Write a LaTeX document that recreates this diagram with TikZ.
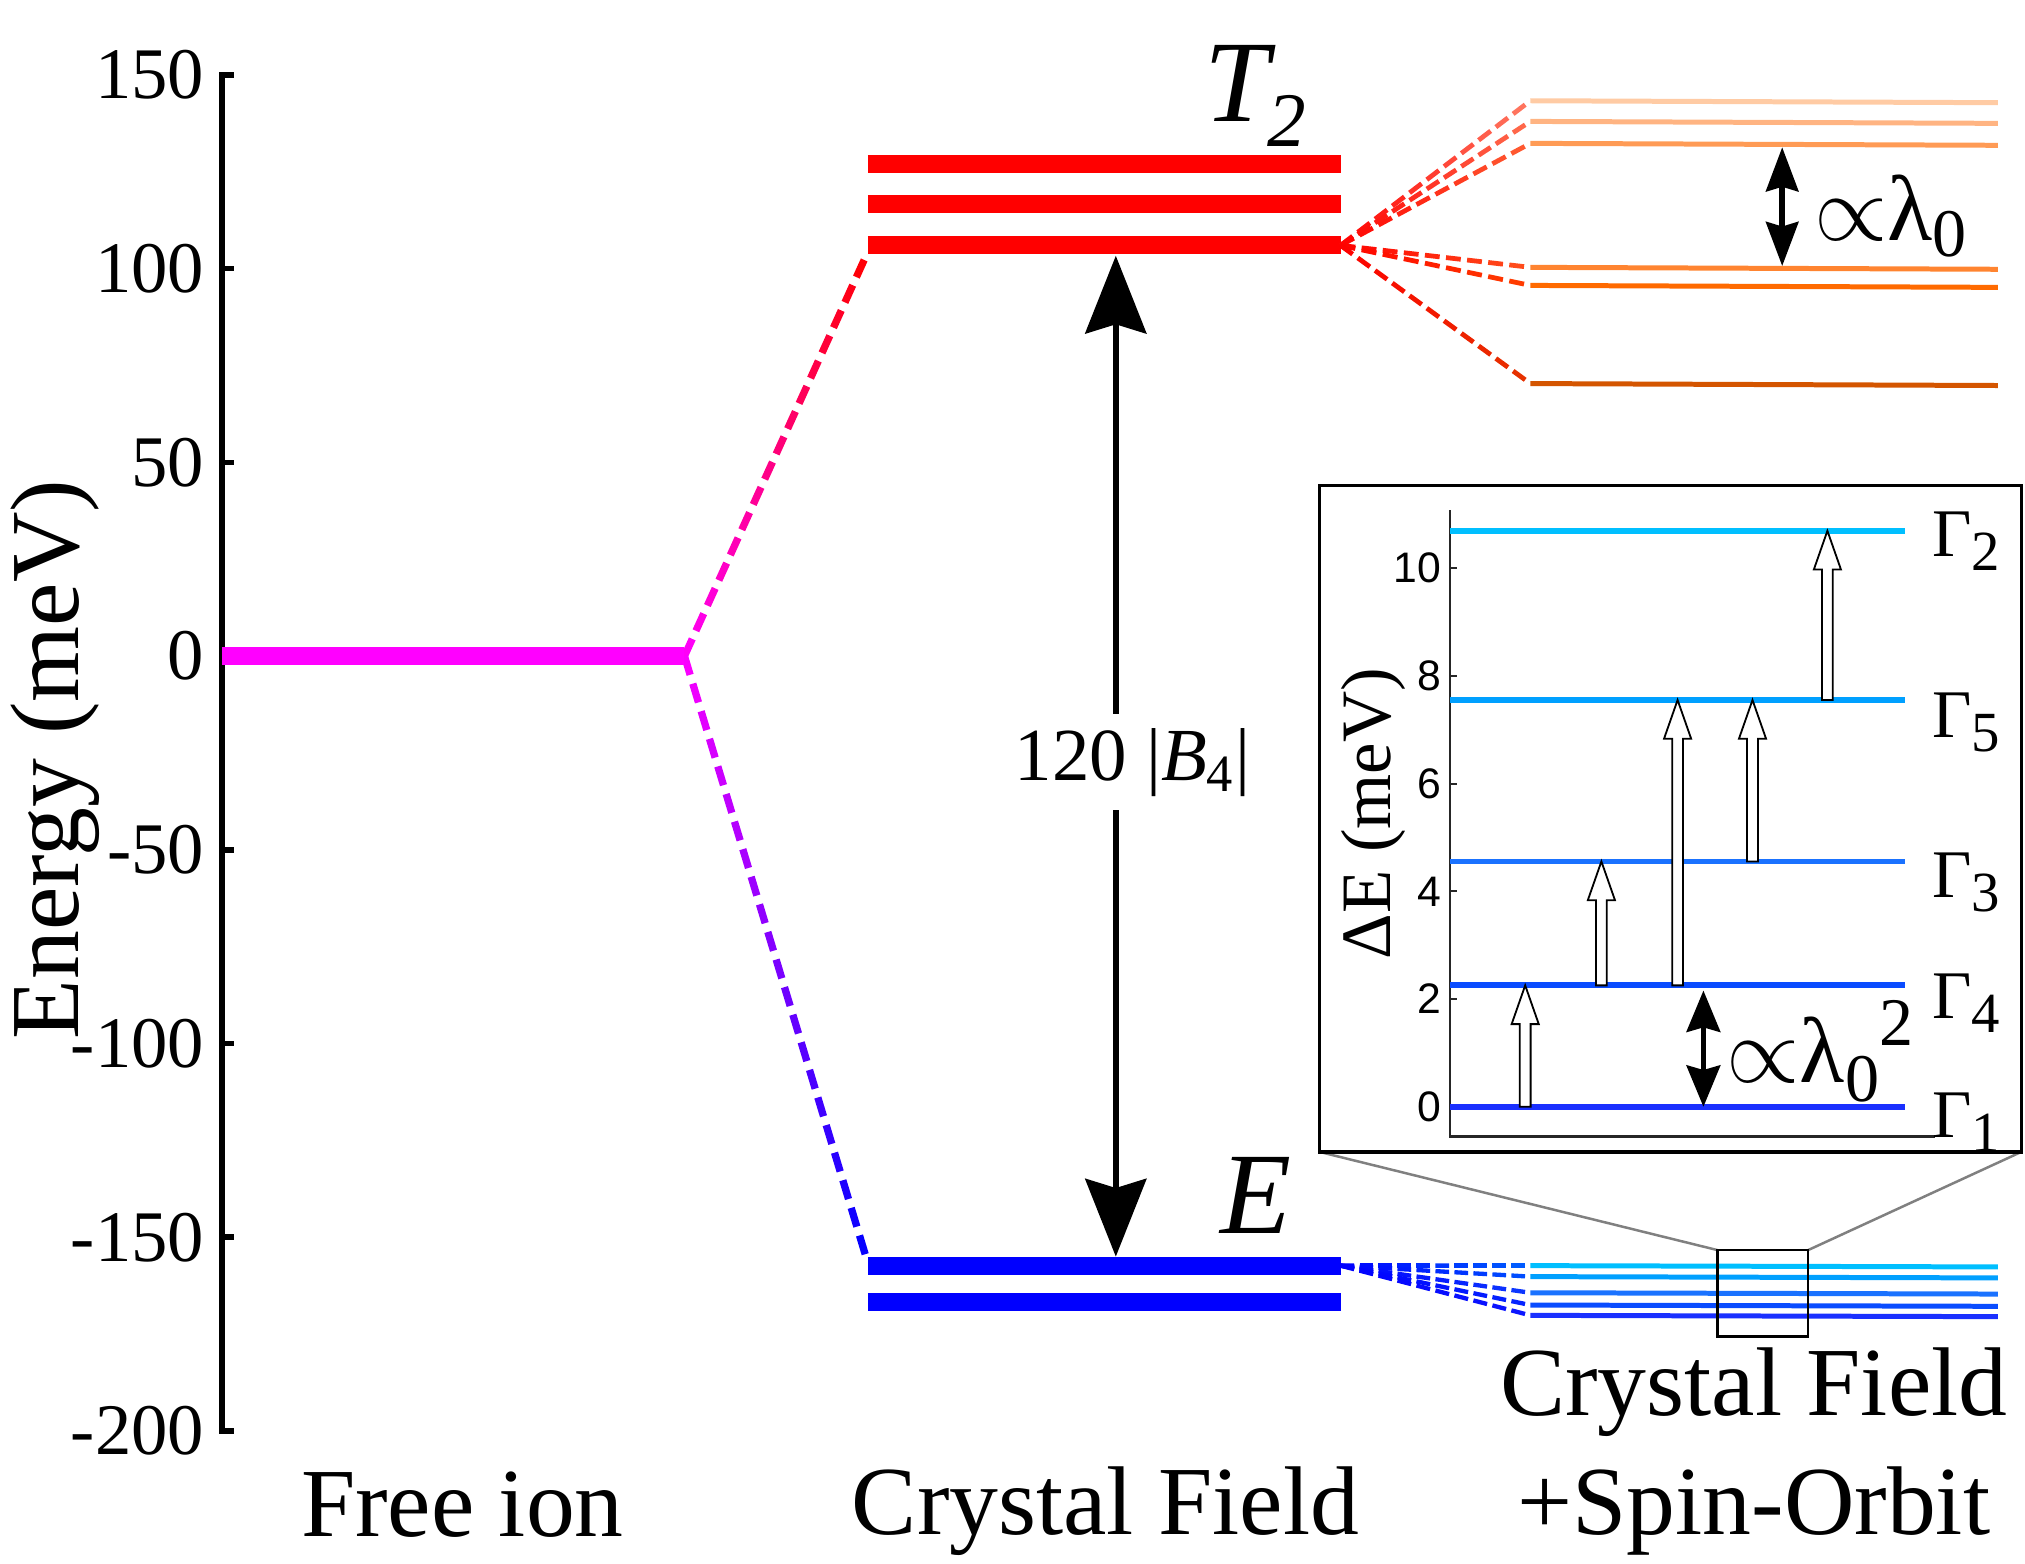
\documentclass[tikz,border=0pt]{standalone}
\usepackage{fontspec}
\setmainfont{Liberation Serif}
\newfontfamily\insetsans{Liberation Sans}
\usetikzlibrary{calc,arrows.meta}
\newcommand\fsz[1]{\fontsize{#1}{#1}\selectfont}
\definecolor{mag}{RGB}{255,0,255}
\definecolor{pured}{RGB}{255,0,0}
\definecolor{soA}{HTML}{FFCBA4}
\definecolor{soB}{HTML}{FFB482}
\definecolor{soC}{HTML}{FF9B55}
\definecolor{soD}{HTML}{FF8430}
\definecolor{soE}{HTML}{FF6A00}
\definecolor{soF}{HTML}{D45500}
\definecolor{gA}{HTML}{00BFFF}
\definecolor{gB}{HTML}{00A0FF}
\definecolor{gC}{HTML}{1A72FF}
\definecolor{gD}{HTML}{0A4CFF}
\definecolor{gE}{HTML}{1A30FF}
\definecolor{eblue}{RGB}{0,0,255}
% gradient dashed connector: start, end, start colour, end colour, N dashes, width, on fraction
\newcommand\gradash[7]{%
  \foreach \ii in {1,...,#5}{%
    \pgfmathsetmacro\ta{(\ii-1)/#5}%
    \pgfmathsetmacro\tb{(\ii-1+#7)/#5}%
    \pgfmathsetmacro\pc{100*(\ii-0.5)/#5}%
    \draw[line width=#6, draw=#4!\pc!#3] ($(#1)!\ta!(#2)$) -- ($(#1)!\tb!(#2)$);
  }}
% hollow arrow: x, y bottom, y tip
\newcommand\hollow[3]{%
  \draw[line width=0.4pt, fill=white]
    (#1-4.2,#2) -- (#1-4.2,#3+30) -- (#1-10.5,#3+30) -- (#1,#3)
    -- (#1+10.5,#3+30) -- (#1+4.2,#3+30) -- (#1+4.2,#2) -- cycle;}
\tikzset{
  level/.style={line width=3.98pt},
  solevel/.style={line width=1.1pt},
  glevel/.style={line width=1.28pt},
  txt/.style={inner sep=0pt, outer sep=0pt},
}
\begin{document}
\begin{tikzpicture}[x=0.01cm,y=-0.01cm]
\useasboundingbox (0,0) rectangle (1568,1211);

% ---------- axis ----------
\draw[line width=1.25pt, line cap=rect] (172,58) -- (172,1108);
\foreach \v in {150,100,...,-200}{
  \pgfmathsetmacro\yy{508-3*\v}
  \draw[line width=1.25pt] (172,\yy) -- (181,\yy);
  \node[txt, anchor=east] at (158,\yy) {\fsz{16pt}\v};
}
\node[txt, rotate=90, anchor=base] (ylab) at (61,588) {\fsz{21.5pt}Energy (meV)};

% ---------- coordinates ----------
\coordinate (fiL) at (172,508);
\coordinate (fiR) at (530,508);
\coordinate (tLow) at (672,195);
\coordinate (eTop) at (672,978);
\coordinate (tR) at (1038,190);
\coordinate (eR) at (1038,980);

% gradient dashed connectors from the free ion
\gradash{fiR}{tLow}{mag}{pured}{16}{1.6pt}{0.68}
\gradash{fiR}{eTop}{mag}{eblue}{22}{1.6pt}{0.68}

% free ion level
\draw[level, mag] (fiL) -- (fiR);

% T2 and E levels
\foreach \y/\n in {127/1,158/2,190/3}{
  \draw[level, pured] (672,\y) coordinate (tl\n) -- (1038,\y) coordinate (tr\n);
}
\foreach \y/\n in {980/1,1008/2}{
  \draw[level, eblue] (672,\y) coordinate (el\n) -- (1038,\y) coordinate (er\n);
}

% spin-orbit levels of T2
\foreach \y/\c/\n/\N in {78/soA/a/11, 94/soB/b/11, 111/soC/c/10, 207/soD/d/9, 221/soE/e/9, 297/soF/f/11}{
  \coordinate (so\n) at (1185,\y);
  \gradash{tR}{so\n}{pured}{\c!60!pured}{\N}{1.05pt}{0.7}
  \draw[solevel, \c] (so\n) -- (1547,\y+1.5);
}
% spin-orbit levels of E
\foreach \y/\c/\n in {980/gA/a, 988.5/gB/b, 1001/gC/c, 1010.5/gD/d, 1018.5/gE/e}{
  \coordinate (se\n) at (1185,\y);
  \gradash{eR}{se\n}{eblue}{\c!50!eblue}{10}{0.95pt}{0.72}
  \draw[solevel, \c] (se\n) -- (1547,\y+1);
}

% big double arrow
\coordinate (bigTop) at (864,198);
\coordinate (bigBot) at (864,973);
\draw[line width=1.42pt, {Stealth[length=17.1pt,width=13.4pt,inset=2pt]}-{Stealth[length=17.1pt,width=13.4pt,inset=2pt]}] (bigTop) -- (bigBot);
\node[txt, anchor=base, fill=white, inner ysep=3pt, inner xsep=1pt] (blab) at (877,604)
  {\fsz{16.5pt}120 |\textit{B}\textsubscript{4}|};

% state labels
\node[txt, anchor=base west] (T2lab) at (933,94)
  {\fsz{25.6pt}\textit{T}\kern-0.08em\raisebox{-0.22em}{\fsz{17pt}\textit{2}}};
\node[txt, anchor=base west] (Elab) at (945,955) {\fsz{25.6pt}\textit{E}};

% lambda_0 arrow
\coordinate (l0t) at (1380,114);
\coordinate (l0b) at (1380,206);
\draw[line width=1.28pt, {Stealth[length=9.7pt,width=7.1pt,inset=1pt]}-{Stealth[length=9.7pt,width=7.1pt,inset=1pt]}] (l0t) -- (l0b);
\node[txt, anchor=base west] (l0lab) at (1405,186)
  {\fsz{20.5pt}$\propto$λ\raisebox{-0.18em}{\fsz{15pt}0}};

% bottom labels
\node[txt, anchor=base] (c1) at (358,1190) {\fsz{21.5pt}Free ion};
\node[txt, anchor=base] (c2) at (856,1188) {\fsz{21.5pt}Crystal Field};
\node[txt, anchor=base] (c3) at (1358,1096) {\fsz{21.5pt}Crystal Field};
\node[txt, anchor=base] (c4) at (1358,1188) {\fsz{21.5pt}+Spin-Orbit};

% zoom box and gray lines
\coordinate (zbl) at (1330,968);
\coordinate (zbr) at (1400,968);
\coordinate (ibl) at (1022,892);
\coordinate (ibr) at (1565,892);
\draw[line width=0.55pt, black!50] (zbl) -- (ibl);
\draw[line width=0.55pt, black!50] (zbr) -- (ibr);
\draw[line width=0.55pt] (1330,968) rectangle (1400,1035);

% ---------- inset ----------
\draw[line width=0.7pt, fill=white] (1022,376) rectangle (ibr);
\draw[line width=0.45pt, black!85] (1123,395) -- (1123,880) -- (1498,880);
\foreach \v in {0,2,...,10}{
  \pgfmathsetmacro\yy{857-41.7*\v}
  \draw[line width=0.45pt, black!85] (1123,\yy) -- (1128,\yy);
  \node[txt, anchor=east] at (1116,\yy) {\insetsans\fsz{9.4pt}\v};
}
\node[txt, rotate=90, anchor=base] (dElab) at (1077,630) {\fsz{15.6pt}ΔE (meV)};

\foreach \y/\c/\n in {411/gA/2, 542/gB/5, 667/gC/3, 763/gD/4, 857/gE/1}{
  \draw[glevel, \c] (1123,\y) coordinate (G\n L) -- (1475,\y) coordinate (G\n R);
}
\foreach \b/\n in {431/2, 571/5, 695/3, 789/4, 881/1}{
  \node[txt, anchor=base west] (Gam\n) at (1496,\b)
    {\fsz{15pt}Γ\raisebox{-0.2em}{\fsz{12.5pt}\n}};
}

% transitions
\hollow{1181}{857}{763}
\hollow{1240}{763}{667}
\hollow{1299}{763}{542}
\hollow{1357}{667}{542}
\hollow{1415}{542}{411}

% lambda_0^2 arrow
\coordinate (l2t) at (1319,767);
\coordinate (l2b) at (1319,857);
\draw[line width=1.14pt, {Stealth[length=9.1pt,width=7.4pt,inset=1pt]}-{Stealth[length=9.1pt,width=7.4pt,inset=1pt]}] (l2t) -- (l2b);
\node[txt, anchor=base west] (l2lab) at (1337,838)
  {\fsz{20.5pt}$\propto$λ\raisebox{-0.21em}{\fsz{15pt}0}\raisebox{0.39em}{\fsz{15pt}2}};
\end{tikzpicture}
\end{document}
